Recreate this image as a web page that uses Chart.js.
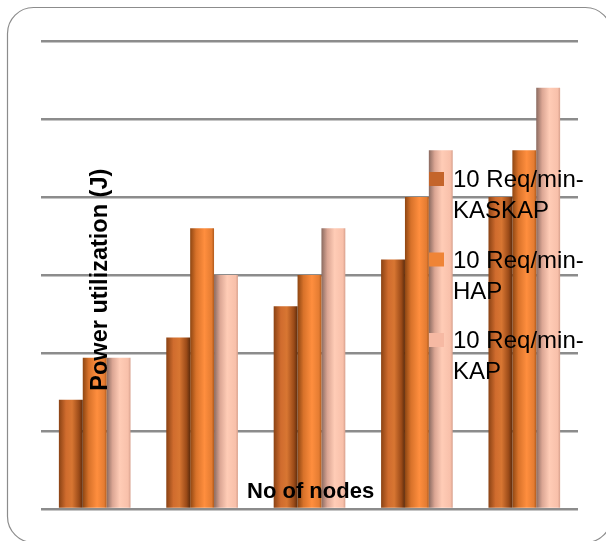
<!DOCTYPE html>
<html>
<head>
<meta charset="utf-8">
<script src="https://cdn.jsdelivr.net/npm/chart.js@4/dist/chart.umd.min.js"></script>
<style>
  html, body { margin: 0; padding: 0; background: #ffffff; }
  #wrap { width: 606px; height: 541px; }
</style>
</head>
<body>
<div id="wrap"><canvas id="c" width="606" height="541"></canvas></div>
<script>
// ---- data ----
const categories = ['10', '20', '30', '40', '50'];
const seriesNames = ['10 Req/min-KASKAP', '10 Req/min-HAP', '10 Req/min-KAP'];
const kaskapValues = [14, 22, 26, 32, 40];
const hapValues = [19.4, 36, 30, 40, 46];
const kapValues = [19.4, 30, 36, 46, 54];
const yMin = 0, yMax = 60, yStep = 10;
const xTitle = 'No of nodes';
const yTitle = 'Power utilization (J)';

// ---- styles ----
const legendColors = ['#c4652b', '#ef8436', '#f6b9a3'];
const gradStops = [
  [[0, '#8a4214'], [0.3, '#d06c2e'], [0.55, '#d87632'], [0.85, '#9a4a18'], [1, '#5e2c0c']],
  [[0, '#8e4612'], [0.25, '#d8722a'], [0.6, '#ff8e3e'], [0.9, '#e47c32'], [1, '#b05a1c']],
  [[0, '#8a6a60'], [0.25, '#dba694'], [0.55, '#ffccb6'], [0.9, '#f8c0aa'], [1, '#d8a08c']]
];

const gradientPlugin = {
  id: 'gradients',
  beforeDatasetsDraw(chart) {
    const ctx = chart.ctx;
    chart.data.datasets.forEach((ds, di) => {
      const meta = chart.getDatasetMeta(di);
      meta.data.forEach(el => {
        const left = el.x - el.width / 2;
        const g = ctx.createLinearGradient(left, 0, left + el.width, 0);
        gradStops[di].forEach(s => g.addColorStop(s[0], s[1]));
        el.options = Object.assign({}, el.options, { backgroundColor: g });
      });
    });
  }
};

const framePlugin = {
  id: 'frame',
  beforeDraw(chart) {
    const ctx = chart.ctx;
    ctx.save();
    ctx.fillStyle = '#ffffff';
    ctx.fillRect(0, 0, chart.width, chart.height);
    ctx.strokeStyle = '#8c8c8c';
    ctx.lineWidth = 1.2;
    ctx.beginPath();
    ctx.roundRect(7.5, 7.5, 604, 535, 26);
    ctx.stroke();
    ctx.restore();
  }
};

const textPlugin = {
  id: 'texts',
  afterDatasetsDraw(chart) {
    const ctx = chart.ctx;
    const a = chart.chartArea;
    ctx.save();
    ctx.fillStyle = '#000000';
    // x axis title, inside plot near bottom
    ctx.font = 'bold 22px "Liberation Sans", Arial, sans-serif';
    ctx.textAlign = 'center';
    ctx.textBaseline = 'alphabetic';
    ctx.fillText(xTitle, a.left + (a.right - a.left) * 0.502, a.bottom - 11);
    // y axis title, rotated, inside plot
    ctx.font = 'bold 23.5px "Liberation Sans", Arial, sans-serif';
    ctx.translate(a.left + 66, a.top + (a.bottom - a.top) * 0.51);
    ctx.rotate(-Math.PI / 2);
    ctx.fillText(yTitle, 0, 0);
    ctx.restore();

    // legend
    ctx.save();
    ctx.font = '24px "Liberation Sans", Arial, sans-serif';
    ctx.textAlign = 'left';
    ctx.textBaseline = 'alphabetic';
    const x0 = 429, baseline0 = 187, entryGap = 80.5, lineGap = 31;
    chart.data.datasets.forEach((ds, i) => {
      const bl = baseline0 + i * entryGap;
      ctx.fillStyle = legendColors[i];
      ctx.fillRect(x0, bl - 15, 15, 14);
      ctx.fillStyle = '#000000';
      const idx = ds.label.indexOf('-');
      const l1 = ds.label.slice(0, idx + 1);
      const l2 = ds.label.slice(idx + 1);
      ctx.fillText(l1, x0 + 24, bl);
      ctx.fillText(l2, x0 + 24, bl + lineGap);
    });
    ctx.restore();
  }
};

new Chart(document.getElementById('c'), {
  type: 'bar',
  data: {
    labels: categories,
    datasets: [
      { label: seriesNames[0], data: kaskapValues, backgroundColor: legendColors[0] },
      { label: seriesNames[1], data: hapValues, backgroundColor: legendColors[1] },
      { label: seriesNames[2], data: kapValues, backgroundColor: legendColors[2] }
    ]
  },
  options: {
    responsive: false,
    animation: false,
    devicePixelRatio: 1,
    layout: { padding: { left: 41, right: 28, top: 41, bottom: 32 } },
    datasets: { bar: { categoryPercentage: 0.667, barPercentage: 1.0, borderWidth: 0 } },
    plugins: { legend: { display: false }, tooltip: { enabled: false } },
    scales: {
      x: { display: false },
      y: {
        min: yMin, max: yMax,
        ticks: { display: false, stepSize: yStep },
        border: { display: false },
        grid: { color: '#8c8c8c', lineWidth: 2.5, drawTicks: false },
        afterFit(scale) { scale.width = 0; }
      }
    }
  },
  plugins: [framePlugin, gradientPlugin, textPlugin]
});
</script>
</body>
</html>
